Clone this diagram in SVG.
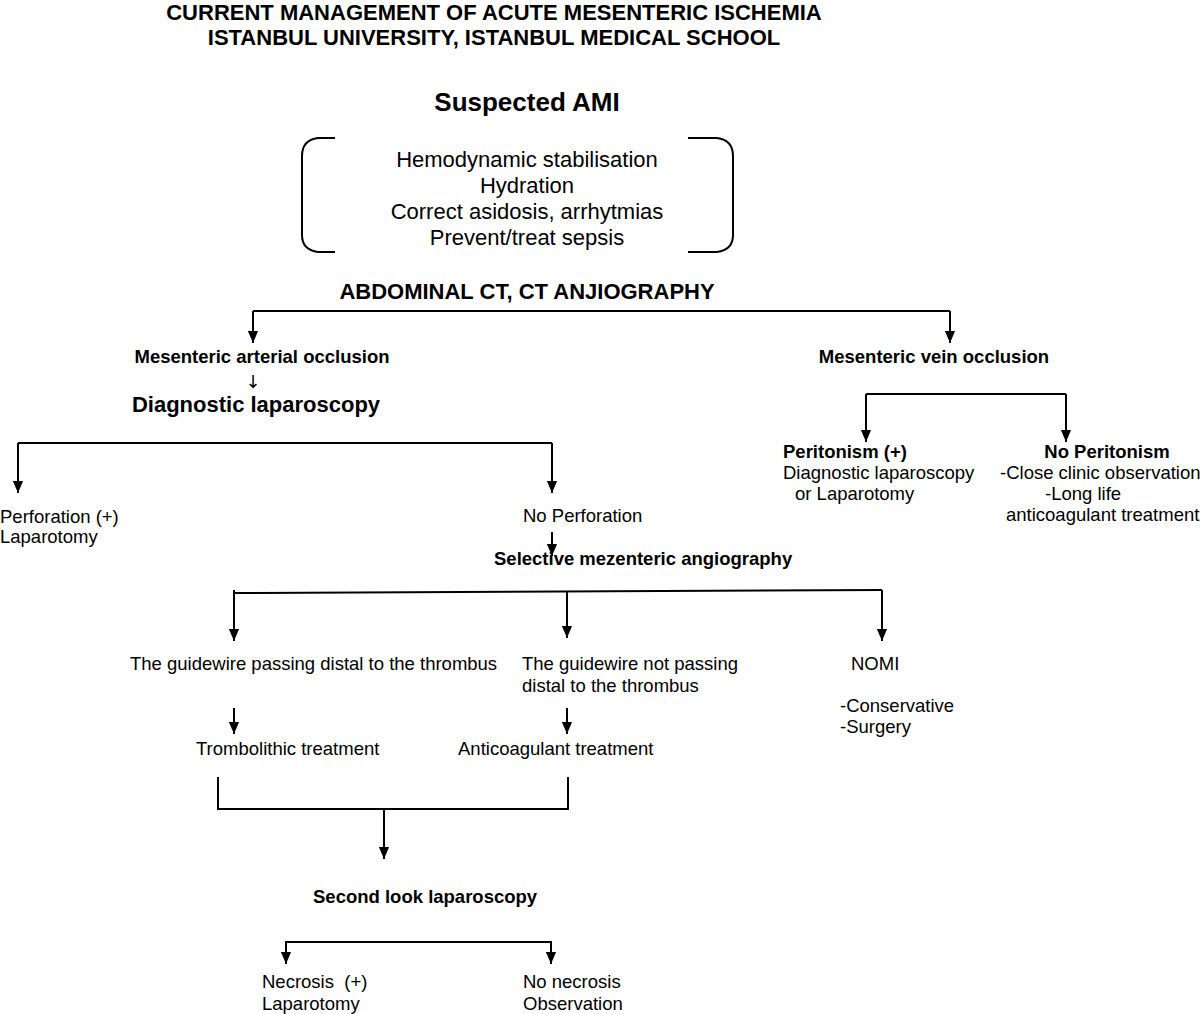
<svg xmlns="http://www.w3.org/2000/svg" width="1200" height="1014" viewBox="0 0 1200 1014">
<defs>
<marker id="ah" markerWidth="12" markerHeight="11" refX="13" refY="5.5" orient="auto" markerUnits="userSpaceOnUse" viewBox="0 0 13 11">
<path d="M0,0 L13,5.5 L0,11 Z" fill="#000"/>
</marker>
<style>
text{font-family:"Liberation Sans",Arial,sans-serif;fill:#000}
.t{font-size:22px;font-weight:bold;text-anchor:middle}
.h{font-size:26px;font-weight:bold;text-anchor:middle}
.b{font-size:22px;text-anchor:middle}
.bb{font-size:18.5px;font-weight:bold}
.r{font-size:18.5px}
.c{stroke:#000;stroke-width:2;fill:none}
.a{stroke:#000;stroke-width:2;fill:none;marker-end:url(#ah)}
</style>
</defs>
<rect width="1200" height="1014" fill="#fff"/>
<g id="title">
<text class="t" x="494" y="20">CURRENT MANAGEMENT OF ACUTE MESENTERIC ISCHEMIA</text>
<text class="t" x="494" y="45">ISTANBUL UNIVERSITY, ISTANBUL MEDICAL SCHOOL</text>
</g>
<g id="suspected">
<text class="h" x="527" y="111">Suspected AMI</text>
</g>
<g id="stabilisation">
<path class="c" d="M335,138 L318,138 Q302,140 302,156 L302,235 Q302,250 318,252 L335,252" stroke-width="1.5"/>
<path class="c" d="M688,138 L717,138 Q733,140 733,156 L733,235 Q733,250 717,252 L688,252" stroke-width="1.5"/>
<text class="b" x="527" y="167">Hemodynamic stabilisation</text>
<text class="b" x="527" y="193">Hydration</text>
<text class="b" x="527" y="219">Correct asidosis, arrhytmias</text>
<text class="b" x="527" y="245">Prevent/treat sepsis</text>
</g>
<g id="ct">
<text class="t" x="527" y="299">ABDOMINAL CT, CT ANJIOGRAPHY</text>
</g>
<g id="arterial">
<text class="bb" x="262" y="363" text-anchor="middle">Mesenteric arterial occlusion</text>
<text x="253" y="388" text-anchor="middle" style="font-family:'DejaVu Sans',sans-serif;font-size:18px;fill:#000">↓</text>
<text x="256" y="412" text-anchor="middle" style="font-size:22px;font-weight:bold">Diagnostic laparoscopy</text>
</g>
<g id="vein">
<text class="bb" x="934" y="363" text-anchor="middle">Mesenteric vein occlusion</text>
</g>
<g id="peritonism">
<text class="bb" x="783" y="458">Peritonism (+)</text>
<text class="r" x="783" y="479">Diagnostic laparoscopy</text>
<text class="r" x="795" y="500">or Laparotomy</text>
</g>
<g id="noperitonism">
<text class="bb" x="1107" y="458" text-anchor="middle">No Peritonism</text>
<text class="r" x="1000" y="479">-Close clinic observation</text>
<text class="r" x="1045" y="500">-Long life</text>
<text class="r" x="1006" y="521">anticoagulant treatment</text>
</g>
<g id="perforation">
<text class="r" x="0" y="523">Perforation (+)</text>
<text class="r" x="0" y="543">Laparotomy</text>
</g>
<g id="noperforation">
<text class="r" x="523" y="522">No Perforation</text>
</g>
<g id="selective">
<text class="bb" x="494" y="565">Selective mezenteric angiography</text>
</g>
<g id="guidewire1">
<text class="r" x="130" y="670">The guidewire passing distal to the thrombus</text>
</g>
<g id="guidewire2">
<text class="r" x="522" y="670">The guidewire not passing</text>
<text class="r" x="522" y="692">distal to the thrombus</text>
</g>
<g id="nomi">
<text class="r" x="851" y="670">NOMI</text>
<text class="r" x="840" y="712">-Conservative</text>
<text class="r" x="840" y="733">-Surgery</text>
</g>
<g id="trombolithic">
<text class="r" x="196" y="755">Trombolithic treatment</text>
</g>
<g id="anticoagulant">
<text class="r" x="458" y="755">Anticoagulant treatment</text>
</g>
<g id="secondlook">
<text class="bb" x="313" y="903">Second look laparoscopy</text>
</g>
<g id="necrosis">
<text class="r" x="262" y="988">Necrosis&#160; (+)</text>
<text class="r" x="262" y="1010">Laparotomy</text>
</g>
<g id="nonecrosis">
<text class="r" x="523" y="988">No necrosis</text>
<text class="r" x="523" y="1010">Observation</text>
</g>
<g id="connectors">
<path class="c" d="M253,311 L950,311"/>
<path class="a" d="M253,311 L253,343"/>
<path class="a" d="M950,311 L950,343"/>
<path class="c" d="M866,394 L1066,394"/>
<path class="a" d="M866,394 L866,442"/>
<path class="a" d="M1066,394 L1066,442"/>
<path class="c" d="M18,443 L552,443"/>
<path class="a" d="M18,443 L18,493"/>
<path class="a" d="M552,443 L552,493"/>
<path class="a" d="M552,532 L552,556"/>
<path class="c" d="M234,593 L882,590"/>
<path class="a" d="M234,590 L234,641"/>
<path class="a" d="M567,592 L567,638"/>
<path class="a" d="M882,590 L882,641"/>
<path class="a" d="M234,708 L234,734"/>
<path class="a" d="M567,708 L567,734"/>
<path class="c" d="M218,777 L218,809 L568,809 L568,777"/>
<path class="a" d="M384,809 L384,859"/>
<path class="c" d="M286,942 L551,942"/>
<path class="a" d="M286,941 L286,964"/>
<path class="a" d="M551,941 L551,964"/>
</g>
</svg>
